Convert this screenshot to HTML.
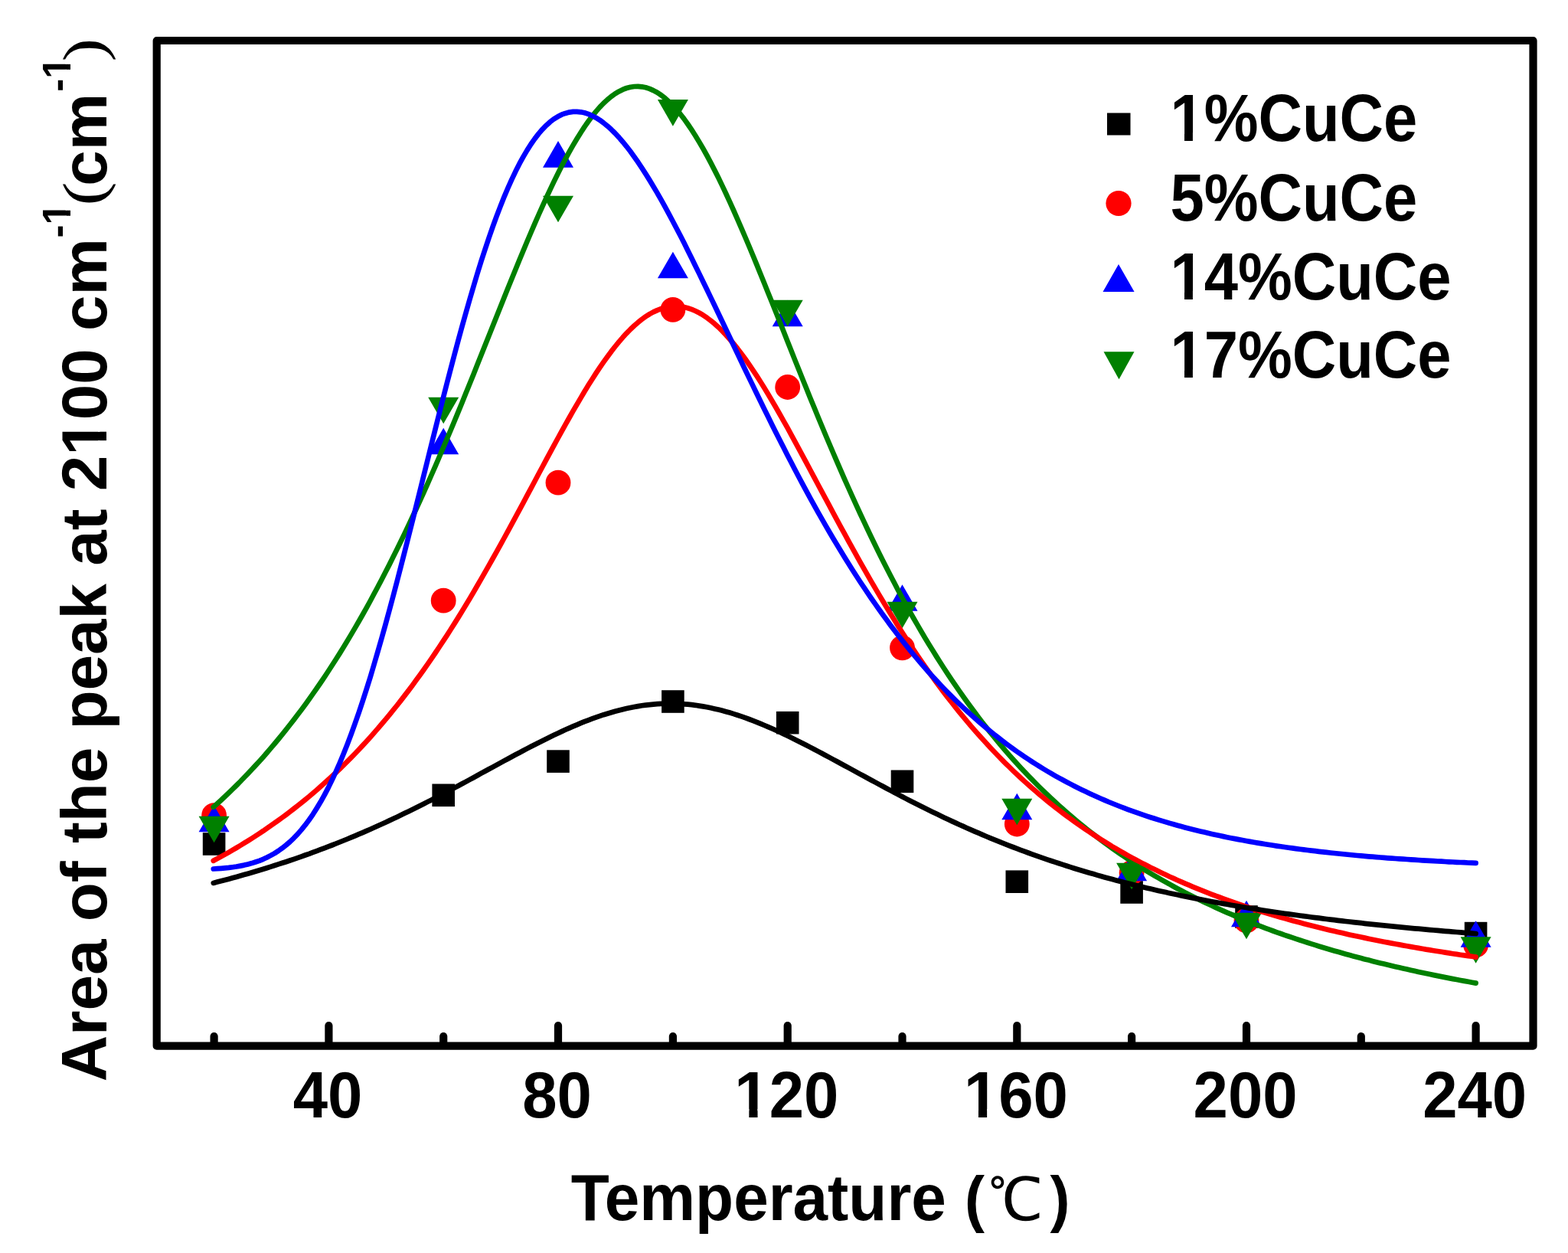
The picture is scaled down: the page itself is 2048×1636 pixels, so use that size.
<!DOCTYPE html>
<html><head><meta charset="utf-8"><style>
html,body{margin:0;padding:0;background:#fff;}
svg{display:block;}
text{font-family:"Liberation Sans",Arial,sans-serif;font-weight:bold;fill:#000;}
.tl{font-size:81.5px;}
.lg{font-size:79.6px;}
.ax{font-size:81.9px;}
.ay{font-size:83.6px;}
.sp{font-size:51px;}
.pr{font-family:"Liberation Serif",serif;font-weight:normal;}
.wq{font-family:"WenQuanYi Zen Hei","Noto Sans CJK SC",sans-serif;font-weight:normal;}
.cj{font-family:"Noto Serif CJK SC","Liberation Serif",serif;font-weight:normal;}
</style></head><body>
<svg width="2048" height="1636" viewBox="0 0 2048 1636">
<rect width="2048" height="1636" fill="#fff"/>
<rect x="264.8" y="1087.2" width="29.6" height="29.6" fill="#000"/><rect x="564.4" y="1023.5" width="29.6" height="29.6" fill="#000"/><rect x="714.2" y="979.3" width="29.6" height="29.6" fill="#000"/><rect x="864.1" y="901.2" width="29.6" height="29.6" fill="#000"/><rect x="1013.9" y="928.9" width="29.6" height="29.6" fill="#000"/><rect x="1163.7" y="1005.5" width="29.6" height="29.6" fill="#000"/><rect x="1313.5" y="1136.4" width="29.6" height="29.6" fill="#000"/><rect x="1463.3" y="1150.2" width="29.6" height="29.6" fill="#000"/><rect x="1613.2" y="1182.2" width="29.6" height="29.6" fill="#000"/><rect x="1912.8" y="1203.8" width="29.6" height="29.6" fill="#000"/><circle cx="279.6" cy="1064.7" r="16.4" fill="#f00"/><circle cx="579.2" cy="784.2" r="16.4" fill="#f00"/><circle cx="729.0" cy="630.2" r="16.4" fill="#f00"/><circle cx="878.9" cy="404.3" r="16.4" fill="#f00"/><circle cx="1028.7" cy="505.5" r="16.4" fill="#f00"/><circle cx="1178.5" cy="845.8" r="16.4" fill="#f00"/><circle cx="1328.3" cy="1076.0" r="16.4" fill="#f00"/><circle cx="1478.1" cy="1139.5" r="16.4" fill="#f00"/><circle cx="1628.0" cy="1202.0" r="16.4" fill="#f00"/><circle cx="1927.6" cy="1234.0" r="16.4" fill="#f00"/><polygon points="279.6,1051.7 299.6,1086.3 259.6,1086.3" fill="#00f"/><polygon points="579.2,558.7 599.2,593.3 559.2,593.3" fill="#00f"/><polygon points="729.0,184.1 749.0,218.7 709.0,218.7" fill="#00f"/><polygon points="878.9,328.7 898.9,363.3 858.9,363.3" fill="#00f"/><polygon points="1028.7,391.7 1048.7,426.3 1008.7,426.3" fill="#00f"/><polygon points="1178.5,763.2 1198.5,797.8 1158.5,797.8" fill="#00f"/><polygon points="1328.3,1035.7 1348.3,1070.3 1308.3,1070.3" fill="#00f"/><polygon points="1478.1,1115.7 1498.1,1150.3 1458.1,1150.3" fill="#00f"/><polygon points="1628.0,1175.7 1648.0,1210.3 1608.0,1210.3" fill="#00f"/><polygon points="1927.6,1202.2 1947.6,1236.8 1907.6,1236.8" fill="#00f"/><polygon points="259.6,1065.7 299.6,1065.7 279.6,1100.3" fill="#008000"/><polygon points="559.2,518.7 599.2,518.7 579.2,553.3" fill="#008000"/><polygon points="709.0,255.7 749.0,255.7 729.0,290.3" fill="#008000"/><polygon points="858.9,130.1 898.9,130.1 878.9,164.7" fill="#008000"/><polygon points="1008.7,391.7 1048.7,391.7 1028.7,426.3" fill="#008000"/><polygon points="1158.5,785.7 1198.5,785.7 1178.5,820.3" fill="#008000"/><polygon points="1308.3,1042.7 1348.3,1042.7 1328.3,1077.3" fill="#008000"/><polygon points="1458.1,1126.7 1498.1,1126.7 1478.1,1161.3" fill="#008000"/><polygon points="1608.0,1191.7 1648.0,1191.7 1628.0,1226.3" fill="#008000"/><polygon points="1907.6,1223.2 1947.6,1223.2 1927.6,1257.8" fill="#008000"/>
<path d="M278.8,1053.8 L283.8,1049.3 L288.8,1044.7 L293.8,1040.0 L298.8,1035.3 L303.8,1030.4 L308.8,1025.5 L313.8,1020.5 L318.8,1015.3 L323.8,1010.1 L328.8,1004.8 L333.8,999.4 L338.8,994.0 L343.8,988.4 L348.7,982.7 L353.7,976.9 L358.7,971.0 L363.7,965.0 L368.7,958.9 L373.7,952.7 L378.7,946.3 L383.7,939.9 L388.7,933.3 L393.7,926.7 L398.7,919.9 L403.7,913.0 L408.7,905.9 L413.7,898.8 L418.7,891.5 L423.7,884.1 L428.7,876.5 L433.7,868.8 L438.7,861.0 L443.7,853.1 L448.7,845.0 L453.7,836.8 L458.7,828.4 L463.7,819.9 L468.7,811.3 L473.7,802.5 L478.7,793.6 L483.7,784.5 L488.6,775.3 L493.6,766.0 L498.6,756.5 L503.6,746.8 L508.6,737.1 L513.6,727.1 L518.6,717.0 L523.6,706.8 L528.6,696.5 L533.6,685.9 L538.6,675.3 L543.6,664.5 L548.6,653.6 L553.6,642.5 L558.6,631.3 L563.6,620.0 L568.6,608.6 L573.6,597.0 L578.6,585.3 L583.6,573.5 L588.6,561.7 L593.6,549.7 L598.6,537.6 L603.6,525.4 L608.6,513.1 L613.6,500.8 L618.6,488.4 L623.5,476.0 L628.5,463.5 L633.5,451.0 L638.5,438.5 L643.5,426.0 L648.5,413.5 L653.5,401.0 L658.5,388.5 L663.5,376.1 L668.5,363.7 L673.5,351.5 L678.5,339.3 L683.5,327.2 L688.5,315.3 L693.5,303.5 L698.5,291.9 L703.5,280.5 L708.5,269.3 L713.5,258.3 L718.5,247.6 L723.5,237.1 L728.5,227.0 L733.5,217.1 L738.5,207.6 L743.5,198.4 L748.5,189.6 L753.5,181.2 L758.5,173.2 L763.4,165.6 L768.4,158.5 L773.4,151.8 L778.4,145.6 L783.4,139.9 L788.4,134.7 L793.4,130.1 L798.4,126.0 L803.4,122.4 L808.4,119.4 L813.4,116.9 L818.4,115.0 L823.4,113.7 L828.4,113.0 L833.4,112.9 L838.4,113.3 L843.4,114.3 L848.4,115.9 L853.4,118.1 L858.4,120.8 L863.4,124.1 L868.4,128.0 L873.4,132.4 L878.4,137.3 L883.4,142.7 L888.4,148.7 L893.4,155.1 L898.3,162.0 L903.3,169.4 L908.3,177.2 L913.3,185.4 L918.3,194.0 L923.3,203.0 L928.3,212.4 L933.3,222.1 L938.3,232.1 L943.3,242.4 L948.3,253.0 L953.3,263.9 L958.3,275.0 L963.3,286.3 L968.3,297.8 L973.3,309.5 L978.3,321.3 L983.3,333.3 L988.3,345.4 L993.3,357.7 L998.3,370.0 L1003.3,382.4 L1008.3,394.8 L1013.3,407.3 L1018.3,419.8 L1023.3,432.3 L1028.3,444.9 L1033.3,457.4 L1038.2,469.9 L1043.2,482.3 L1048.2,494.7 L1053.2,507.1 L1058.2,519.4 L1063.2,531.6 L1068.2,543.7 L1073.2,555.7 L1078.2,567.7 L1083.2,579.5 L1088.2,591.3 L1093.2,602.9 L1098.2,614.4 L1103.2,625.8 L1108.2,637.0 L1113.2,648.1 L1118.2,659.1 L1123.2,670.0 L1128.2,680.7 L1133.2,691.3 L1138.2,701.7 L1143.2,712.0 L1148.2,722.2 L1153.2,732.2 L1158.2,742.0 L1163.2,751.7 L1168.2,761.3 L1173.1,770.7 L1178.1,780.0 L1183.1,789.1 L1188.1,798.1 L1193.1,807.0 L1198.1,815.7 L1203.1,824.3 L1208.1,832.7 L1213.1,841.0 L1218.1,849.1 L1223.1,857.1 L1228.1,865.0 L1233.1,872.7 L1238.1,880.3 L1243.1,887.8 L1248.1,895.2 L1253.1,902.4 L1258.1,909.5 L1263.1,916.5 L1268.1,923.3 L1273.1,930.1 L1278.1,936.7 L1283.1,943.2 L1288.1,949.6 L1293.1,955.8 L1298.1,962.0 L1303.1,968.0 L1308.1,974.0 L1313.0,979.8 L1318.0,985.6 L1323.0,991.2 L1328.0,996.7 L1333.0,1002.2 L1338.0,1007.5 L1343.0,1012.8 L1348.0,1017.9 L1353.0,1023.0 L1358.0,1028.0 L1363.0,1032.9 L1368.0,1037.7 L1373.0,1042.4 L1378.0,1047.0 L1383.0,1051.6 L1388.0,1056.1 L1393.0,1060.5 L1398.0,1064.8 L1403.0,1069.0 L1408.0,1073.2 L1413.0,1077.3 L1418.0,1081.4 L1423.0,1085.3 L1428.0,1089.2 L1433.0,1093.0 L1438.0,1096.8 L1443.0,1100.5 L1447.9,1104.1 L1452.9,1107.7 L1457.9,1111.2 L1462.9,1114.7 L1467.9,1118.1 L1472.9,1121.4 L1477.9,1124.7 L1482.9,1127.9 L1487.9,1131.1 L1492.9,1134.2 L1497.9,1137.3 L1502.9,1140.3 L1507.9,1143.3 L1512.9,1146.2 L1517.9,1149.1 L1522.9,1151.9 L1527.9,1154.7 L1532.9,1157.5 L1537.9,1160.2 L1542.9,1162.8 L1547.9,1165.4 L1552.9,1168.0 L1557.9,1170.5 L1562.9,1173.0 L1567.9,1175.5 L1572.9,1177.9 L1577.9,1180.2 L1582.9,1182.6 L1587.8,1184.9 L1592.8,1187.1 L1597.8,1189.4 L1602.8,1191.6 L1607.8,1193.7 L1612.8,1195.9 L1617.8,1197.9 L1622.8,1200.0 L1627.8,1202.0 L1632.8,1204.0 L1637.8,1206.0 L1642.8,1208.0 L1647.8,1209.9 L1652.8,1211.8 L1657.8,1213.6 L1662.8,1215.5 L1667.8,1217.3 L1672.8,1219.0 L1677.8,1220.8 L1682.8,1222.5 L1687.8,1224.2 L1692.8,1225.9 L1697.8,1227.5 L1702.8,1229.2 L1707.8,1230.8 L1712.8,1232.4 L1717.8,1233.9 L1722.7,1235.5 L1727.7,1237.0 L1732.7,1238.5 L1737.7,1240.0 L1742.7,1241.4 L1747.7,1242.8 L1752.7,1244.3 L1757.7,1245.7 L1762.7,1247.0 L1767.7,1248.4 L1772.7,1249.7 L1777.7,1251.1 L1782.7,1252.4 L1787.7,1253.6 L1792.7,1254.9 L1797.7,1256.2 L1802.7,1257.4 L1807.7,1258.6 L1812.7,1259.8 L1817.7,1261.0 L1822.7,1262.2 L1827.7,1263.3 L1832.7,1264.5 L1837.7,1265.6 L1842.7,1266.7 L1847.7,1267.8 L1852.7,1268.9 L1857.7,1270.0 L1862.6,1271.0 L1867.6,1272.1 L1872.6,1273.1 L1877.6,1274.1 L1882.6,1275.1 L1887.6,1276.1 L1892.6,1277.1 L1897.6,1278.1 L1902.6,1279.0 L1907.6,1280.0 L1912.6,1280.9 L1917.6,1281.8 L1922.6,1282.7 L1927.6,1283.6" fill="none" stroke="#008000" stroke-width="6.7" stroke-linejoin="round" stroke-linecap="round"/><path d="M278.8,1123.8 L283.8,1121.1 L288.8,1118.4 L293.8,1115.6 L298.8,1112.8 L303.8,1109.9 L308.8,1107.0 L313.8,1104.0 L318.8,1100.9 L323.8,1097.9 L328.8,1094.7 L333.8,1091.5 L338.8,1088.2 L343.8,1084.9 L348.7,1081.5 L353.7,1078.1 L358.7,1074.6 L363.7,1071.0 L368.7,1067.4 L373.7,1063.7 L378.7,1059.9 L383.7,1056.0 L388.7,1052.1 L393.7,1048.2 L398.7,1044.1 L403.7,1040.0 L408.7,1035.7 L413.7,1031.5 L418.7,1027.1 L423.7,1022.6 L428.7,1018.1 L433.7,1013.5 L438.7,1008.8 L443.7,1004.0 L448.7,999.2 L453.7,994.2 L458.7,989.1 L463.7,984.0 L468.7,978.8 L473.7,973.4 L478.7,968.0 L483.7,962.5 L488.6,956.9 L493.6,951.1 L498.6,945.3 L503.6,939.4 L508.6,933.3 L513.6,927.2 L518.6,921.0 L523.6,914.6 L528.6,908.1 L533.6,901.6 L538.6,894.9 L543.6,888.1 L548.6,881.2 L553.6,874.2 L558.6,867.1 L563.6,859.8 L568.6,852.5 L573.6,845.0 L578.6,837.4 L583.6,829.8 L588.6,822.0 L593.6,814.1 L598.6,806.1 L603.6,798.0 L608.6,789.7 L613.6,781.4 L618.6,773.0 L623.5,764.5 L628.5,755.9 L633.5,747.2 L638.5,738.4 L643.5,729.5 L648.5,720.6 L653.5,711.6 L658.5,702.5 L663.5,693.3 L668.5,684.1 L673.5,674.9 L678.5,665.6 L683.5,656.3 L688.5,646.9 L693.5,637.6 L698.5,628.2 L703.5,618.8 L708.5,609.5 L713.5,600.2 L718.5,590.9 L723.5,581.7 L728.5,572.5 L733.5,563.4 L738.5,554.4 L743.5,545.5 L748.5,536.7 L753.5,528.1 L758.5,519.6 L763.4,511.3 L768.4,503.1 L773.4,495.2 L778.4,487.4 L783.4,479.9 L788.4,472.7 L793.4,465.7 L798.4,458.9 L803.4,452.5 L808.4,446.4 L813.4,440.6 L818.4,435.1 L823.4,430.0 L828.4,425.3 L833.4,420.9 L838.4,416.9 L843.4,413.3 L848.4,410.1 L853.4,407.4 L858.4,405.1 L863.4,403.2 L868.4,401.7 L873.4,400.7 L878.4,400.1 L883.4,400.0 L888.4,400.3 L893.4,401.1 L898.3,402.3 L903.3,403.9 L908.3,406.0 L913.3,408.5 L918.3,411.4 L923.3,414.8 L928.3,418.6 L933.3,422.7 L938.3,427.2 L943.3,432.1 L948.3,437.4 L953.3,443.0 L958.3,449.0 L963.3,455.2 L968.3,461.8 L973.3,468.6 L978.3,475.7 L983.3,483.1 L988.3,490.7 L993.3,498.5 L998.3,506.6 L1003.3,514.8 L1008.3,523.2 L1013.3,531.8 L1018.3,540.5 L1023.3,549.3 L1028.3,558.2 L1033.3,567.3 L1038.2,576.4 L1043.2,585.6 L1048.2,594.8 L1053.2,604.1 L1058.2,613.5 L1063.2,622.8 L1068.2,632.2 L1073.2,641.6 L1078.2,650.9 L1083.2,660.2 L1088.2,669.6 L1093.2,678.8 L1098.2,688.1 L1103.2,697.2 L1108.2,706.4 L1113.2,715.4 L1118.2,724.4 L1123.2,733.3 L1128.2,742.1 L1133.2,750.9 L1138.2,759.6 L1143.2,768.1 L1148.2,776.6 L1153.2,785.0 L1158.2,793.3 L1163.2,801.4 L1168.2,809.5 L1173.1,817.5 L1178.1,825.3 L1183.1,833.0 L1188.1,840.7 L1193.1,848.2 L1198.1,855.6 L1203.1,862.9 L1208.1,870.1 L1213.1,877.2 L1218.1,884.1 L1223.1,891.0 L1228.1,897.7 L1233.1,904.4 L1238.1,910.9 L1243.1,917.3 L1248.1,923.6 L1253.1,929.8 L1258.1,935.9 L1263.1,941.9 L1268.1,947.8 L1273.1,953.6 L1278.1,959.3 L1283.1,964.8 L1288.1,970.3 L1293.1,975.7 L1298.1,981.0 L1303.1,986.2 L1308.1,991.3 L1313.0,996.3 L1318.0,1001.2 L1323.0,1006.1 L1328.0,1010.8 L1333.0,1015.5 L1338.0,1020.1 L1343.0,1024.6 L1348.0,1029.0 L1353.0,1033.3 L1358.0,1037.6 L1363.0,1041.7 L1368.0,1045.8 L1373.0,1049.9 L1378.0,1053.8 L1383.0,1057.7 L1388.0,1061.5 L1393.0,1065.2 L1398.0,1068.9 L1403.0,1072.5 L1408.0,1076.1 L1413.0,1079.6 L1418.0,1083.0 L1423.0,1086.3 L1428.0,1089.6 L1433.0,1092.9 L1438.0,1096.1 L1443.0,1099.2 L1447.9,1102.2 L1452.9,1105.3 L1457.9,1108.2 L1462.9,1111.1 L1467.9,1114.0 L1472.9,1116.8 L1477.9,1119.6 L1482.9,1122.3 L1487.9,1124.9 L1492.9,1127.6 L1497.9,1130.1 L1502.9,1132.7 L1507.9,1135.1 L1512.9,1137.6 L1517.9,1140.0 L1522.9,1142.3 L1527.9,1144.7 L1532.9,1146.9 L1537.9,1149.2 L1542.9,1151.4 L1547.9,1153.6 L1552.9,1155.7 L1557.9,1157.8 L1562.9,1159.9 L1567.9,1161.9 L1572.9,1163.9 L1577.9,1165.8 L1582.9,1167.8 L1587.8,1169.7 L1592.8,1171.5 L1597.8,1173.4 L1602.8,1175.2 L1607.8,1177.0 L1612.8,1178.7 L1617.8,1180.4 L1622.8,1182.1 L1627.8,1183.8 L1632.8,1185.4 L1637.8,1187.1 L1642.8,1188.6 L1647.8,1190.2 L1652.8,1191.7 L1657.8,1193.3 L1662.8,1194.8 L1667.8,1196.2 L1672.8,1197.7 L1677.8,1199.1 L1682.8,1200.5 L1687.8,1201.9 L1692.8,1203.3 L1697.8,1204.6 L1702.8,1205.9 L1707.8,1207.2 L1712.8,1208.5 L1717.8,1209.8 L1722.7,1211.0 L1727.7,1212.3 L1732.7,1213.5 L1737.7,1214.7 L1742.7,1215.8 L1747.7,1217.0 L1752.7,1218.1 L1757.7,1219.3 L1762.7,1220.4 L1767.7,1221.5 L1772.7,1222.5 L1777.7,1223.6 L1782.7,1224.6 L1787.7,1225.7 L1792.7,1226.7 L1797.7,1227.7 L1802.7,1228.7 L1807.7,1229.7 L1812.7,1230.6 L1817.7,1231.6 L1822.7,1232.5 L1827.7,1233.4 L1832.7,1234.4 L1837.7,1235.2 L1842.7,1236.1 L1847.7,1237.0 L1852.7,1237.9 L1857.7,1238.7 L1862.6,1239.6 L1867.6,1240.4 L1872.6,1241.2 L1877.6,1242.0 L1882.6,1242.8 L1887.6,1243.6 L1892.6,1244.4 L1897.6,1245.2 L1902.6,1245.9 L1907.6,1246.7 L1912.6,1247.4 L1917.6,1248.1 L1922.6,1248.8 L1927.6,1249.6" fill="none" stroke="#f00" stroke-width="6.7" stroke-linejoin="round" stroke-linecap="round"/><path d="M278.8,1134.5 L283.8,1134.2 L288.8,1133.8 L293.8,1133.4 L298.8,1132.9 L303.8,1132.2 L308.8,1131.5 L313.8,1130.6 L318.8,1129.6 L323.8,1128.4 L328.8,1127.1 L333.8,1125.5 L338.8,1123.8 L343.8,1121.8 L348.7,1119.5 L353.7,1116.9 L358.7,1114.1 L363.7,1110.9 L368.7,1107.3 L373.7,1103.4 L378.7,1099.1 L383.7,1094.3 L388.7,1089.1 L393.7,1083.4 L398.7,1077.2 L403.7,1070.5 L408.7,1063.3 L413.7,1055.4 L418.7,1047.1 L423.7,1038.1 L428.7,1028.6 L433.7,1018.4 L438.7,1007.7 L443.7,996.3 L448.7,984.3 L453.7,971.7 L458.7,958.5 L463.7,944.7 L468.7,930.4 L473.7,915.4 L478.7,899.9 L483.7,883.9 L488.6,867.4 L493.6,850.3 L498.6,832.9 L503.6,815.0 L508.6,796.7 L513.6,778.0 L518.6,759.0 L523.6,739.7 L528.6,720.2 L533.6,700.5 L538.6,680.6 L543.6,660.6 L548.6,640.5 L553.6,620.3 L558.6,600.2 L563.6,580.1 L568.6,560.1 L573.6,540.2 L578.6,520.5 L583.6,501.0 L588.6,481.8 L593.6,462.8 L598.6,444.2 L603.6,425.9 L608.6,408.1 L613.6,390.6 L618.6,373.6 L623.5,357.1 L628.5,341.1 L633.5,325.7 L638.5,310.8 L643.5,296.4 L648.5,282.7 L653.5,269.6 L658.5,257.1 L663.5,245.3 L668.5,234.1 L673.5,223.6 L678.5,213.7 L683.5,204.6 L688.5,196.1 L693.5,188.2 L698.5,181.1 L703.5,174.6 L708.5,168.8 L713.5,163.7 L718.5,159.2 L723.5,155.4 L728.5,152.3 L733.5,149.7 L738.5,147.9 L743.5,146.6 L748.5,145.9 L753.5,145.8 L758.5,146.3 L763.4,147.3 L768.4,148.9 L773.4,151.1 L778.4,153.7 L783.4,156.8 L788.4,160.5 L793.4,164.6 L798.4,169.1 L803.4,174.0 L808.4,179.4 L813.4,185.2 L818.4,191.3 L823.4,197.8 L828.4,204.7 L833.4,211.8 L838.4,219.3 L843.4,227.1 L848.4,235.1 L853.4,243.4 L858.4,251.9 L863.4,260.7 L868.4,269.7 L873.4,278.8 L878.4,288.2 L883.4,297.7 L888.4,307.3 L893.4,317.1 L898.3,327.0 L903.3,337.0 L908.3,347.2 L913.3,357.4 L918.3,367.7 L923.3,378.0 L928.3,388.4 L933.3,398.8 L938.3,409.3 L943.3,419.8 L948.3,430.3 L953.3,440.8 L958.3,451.3 L963.3,461.8 L968.3,472.2 L973.3,482.7 L978.3,493.1 L983.3,503.4 L988.3,513.8 L993.3,524.0 L998.3,534.2 L1003.3,544.3 L1008.3,554.4 L1013.3,564.4 L1018.3,574.3 L1023.3,584.1 L1028.3,593.9 L1033.3,603.5 L1038.2,613.1 L1043.2,622.5 L1048.2,631.9 L1053.2,641.2 L1058.2,650.3 L1063.2,659.4 L1068.2,668.3 L1073.2,677.1 L1078.2,685.9 L1083.2,694.5 L1088.2,703.0 L1093.2,711.3 L1098.2,719.6 L1103.2,727.8 L1108.2,735.8 L1113.2,743.7 L1118.2,751.5 L1123.2,759.2 L1128.2,766.7 L1133.2,774.2 L1138.2,781.5 L1143.2,788.7 L1148.2,795.8 L1153.2,802.8 L1158.2,809.6 L1163.2,816.4 L1168.2,823.0 L1173.1,829.5 L1178.1,835.9 L1183.1,842.2 L1188.1,848.4 L1193.1,854.5 L1198.1,860.4 L1203.1,866.3 L1208.1,872.0 L1213.1,877.7 L1218.1,883.2 L1223.1,888.6 L1228.1,894.0 L1233.1,899.2 L1238.1,904.3 L1243.1,909.4 L1248.1,914.3 L1253.1,919.1 L1258.1,923.9 L1263.1,928.5 L1268.1,933.1 L1273.1,937.5 L1278.1,941.9 L1283.1,946.2 L1288.1,950.4 L1293.1,954.5 L1298.1,958.6 L1303.1,962.5 L1308.1,966.4 L1313.0,970.2 L1318.0,973.9 L1323.0,977.5 L1328.0,981.1 L1333.0,984.6 L1338.0,988.0 L1343.0,991.3 L1348.0,994.6 L1353.0,997.8 L1358.0,1000.9 L1363.0,1004.0 L1368.0,1007.0 L1373.0,1009.9 L1378.0,1012.8 L1383.0,1015.6 L1388.0,1018.3 L1393.0,1021.0 L1398.0,1023.6 L1403.0,1026.2 L1408.0,1028.7 L1413.0,1031.2 L1418.0,1033.6 L1423.0,1036.0 L1428.0,1038.3 L1433.0,1040.5 L1438.0,1042.7 L1443.0,1044.9 L1447.9,1047.0 L1452.9,1049.0 L1457.9,1051.0 L1462.9,1053.0 L1467.9,1054.9 L1472.9,1056.8 L1477.9,1058.6 L1482.9,1060.4 L1487.9,1062.2 L1492.9,1063.9 L1497.9,1065.6 L1502.9,1067.2 L1507.9,1068.8 L1512.9,1070.4 L1517.9,1071.9 L1522.9,1073.4 L1527.9,1074.9 L1532.9,1076.3 L1537.9,1077.7 L1542.9,1079.0 L1547.9,1080.4 L1552.9,1081.7 L1557.9,1083.0 L1562.9,1084.2 L1567.9,1085.4 L1572.9,1086.6 L1577.9,1087.8 L1582.9,1088.9 L1587.8,1090.0 L1592.8,1091.1 L1597.8,1092.1 L1602.8,1093.2 L1607.8,1094.2 L1612.8,1095.1 L1617.8,1096.1 L1622.8,1097.0 L1627.8,1098.0 L1632.8,1098.9 L1637.8,1099.7 L1642.8,1100.6 L1647.8,1101.4 L1652.8,1102.2 L1657.8,1103.0 L1662.8,1103.8 L1667.8,1104.6 L1672.8,1105.3 L1677.8,1106.0 L1682.8,1106.7 L1687.8,1107.4 L1692.8,1108.1 L1697.8,1108.8 L1702.8,1109.4 L1707.8,1110.0 L1712.8,1110.6 L1717.8,1111.2 L1722.7,1111.8 L1727.7,1112.4 L1732.7,1112.9 L1737.7,1113.5 L1742.7,1114.0 L1747.7,1114.5 L1752.7,1115.0 L1757.7,1115.5 L1762.7,1116.0 L1767.7,1116.5 L1772.7,1117.0 L1777.7,1117.4 L1782.7,1117.8 L1787.7,1118.3 L1792.7,1118.7 L1797.7,1119.1 L1802.7,1119.5 L1807.7,1119.9 L1812.7,1120.3 L1817.7,1120.6 L1822.7,1121.0 L1827.7,1121.4 L1832.7,1121.7 L1837.7,1122.0 L1842.7,1122.4 L1847.7,1122.7 L1852.7,1123.0 L1857.7,1123.3 L1862.6,1123.6 L1867.6,1123.9 L1872.6,1124.2 L1877.6,1124.5 L1882.6,1124.7 L1887.6,1125.0 L1892.6,1125.3 L1897.6,1125.5 L1902.6,1125.8 L1907.6,1126.0 L1912.6,1126.2 L1917.6,1126.5 L1922.6,1126.7 L1927.6,1126.9" fill="none" stroke="#00f" stroke-width="6.7" stroke-linejoin="round" stroke-linecap="round"/><path d="M278.8,1152.9 L283.8,1151.6 L288.8,1150.3 L293.8,1149.0 L298.8,1147.7 L303.8,1146.3 L308.8,1144.9 L313.8,1143.5 L318.8,1142.1 L323.8,1140.7 L328.8,1139.2 L333.8,1137.7 L338.8,1136.2 L343.8,1134.7 L348.7,1133.2 L353.7,1131.6 L358.7,1130.0 L363.7,1128.4 L368.7,1126.8 L373.7,1125.2 L378.7,1123.5 L383.7,1121.8 L388.7,1120.1 L393.7,1118.3 L398.7,1116.5 L403.7,1114.8 L408.7,1112.9 L413.7,1111.1 L418.7,1109.2 L423.7,1107.3 L428.7,1105.4 L433.7,1103.5 L438.7,1101.5 L443.7,1099.5 L448.7,1097.5 L453.7,1095.5 L458.7,1093.4 L463.7,1091.3 L468.7,1089.2 L473.7,1087.1 L478.7,1084.9 L483.7,1082.7 L488.6,1080.5 L493.6,1078.2 L498.6,1076.0 L503.6,1073.7 L508.6,1071.4 L513.6,1069.0 L518.6,1066.7 L523.6,1064.3 L528.6,1061.8 L533.6,1059.4 L538.6,1057.0 L543.6,1054.5 L548.6,1052.0 L553.6,1049.5 L558.6,1046.9 L563.6,1044.4 L568.6,1041.8 L573.6,1039.2 L578.6,1036.6 L583.6,1033.9 L588.6,1031.3 L593.6,1028.6 L598.6,1026.0 L603.6,1023.3 L608.6,1020.6 L613.6,1017.9 L618.6,1015.2 L623.5,1012.5 L628.5,1009.7 L633.5,1007.0 L638.5,1004.3 L643.5,1001.6 L648.5,998.8 L653.5,996.1 L658.5,993.4 L663.5,990.7 L668.5,988.0 L673.5,985.3 L678.5,982.7 L683.5,980.0 L688.5,977.4 L693.5,974.8 L698.5,972.2 L703.5,969.7 L708.5,967.2 L713.5,964.7 L718.5,962.2 L723.5,959.8 L728.5,957.4 L733.5,955.1 L738.5,952.8 L743.5,950.6 L748.5,948.4 L753.5,946.3 L758.5,944.2 L763.4,942.2 L768.4,940.3 L773.4,938.4 L778.4,936.6 L783.4,934.9 L788.4,933.2 L793.4,931.7 L798.4,930.2 L803.4,928.7 L808.4,927.4 L813.4,926.2 L818.4,925.0 L823.4,924.0 L828.4,923.0 L833.4,922.1 L838.4,921.3 L843.4,920.6 L848.4,920.1 L853.4,919.6 L858.4,919.2 L863.4,918.9 L868.4,918.7 L873.4,918.6 L878.4,918.6 L883.4,918.7 L888.4,919.0 L893.4,919.3 L898.3,919.7 L903.3,920.2 L908.3,920.8 L913.3,921.6 L918.3,922.4 L923.3,923.3 L928.3,924.3 L933.3,925.4 L938.3,926.6 L943.3,927.8 L948.3,929.2 L953.3,930.6 L958.3,932.1 L963.3,933.7 L968.3,935.4 L973.3,937.2 L978.3,939.0 L983.3,940.9 L988.3,942.8 L993.3,944.9 L998.3,947.0 L1003.3,949.1 L1008.3,951.3 L1013.3,953.5 L1018.3,955.8 L1023.3,958.2 L1028.3,960.6 L1033.3,963.0 L1038.2,965.4 L1043.2,967.9 L1048.2,970.5 L1053.2,973.0 L1058.2,975.6 L1063.2,978.2 L1068.2,980.9 L1073.2,983.5 L1078.2,986.2 L1083.2,988.9 L1088.2,991.6 L1093.2,994.3 L1098.2,997.0 L1103.2,999.7 L1108.2,1002.4 L1113.2,1005.1 L1118.2,1007.9 L1123.2,1010.6 L1128.2,1013.3 L1133.2,1016.0 L1138.2,1018.7 L1143.2,1021.4 L1148.2,1024.1 L1153.2,1026.8 L1158.2,1029.5 L1163.2,1032.1 L1168.2,1034.8 L1173.1,1037.4 L1178.1,1040.0 L1183.1,1042.6 L1188.1,1045.2 L1193.1,1047.7 L1198.1,1050.2 L1203.1,1052.8 L1208.1,1055.3 L1213.1,1057.7 L1218.1,1060.2 L1223.1,1062.6 L1228.1,1065.0 L1233.1,1067.4 L1238.1,1069.8 L1243.1,1072.1 L1248.1,1074.4 L1253.1,1076.7 L1258.1,1078.9 L1263.1,1081.2 L1268.1,1083.4 L1273.1,1085.6 L1278.1,1087.7 L1283.1,1089.9 L1288.1,1092.0 L1293.1,1094.1 L1298.1,1096.1 L1303.1,1098.1 L1308.1,1100.2 L1313.0,1102.1 L1318.0,1104.1 L1323.0,1106.0 L1328.0,1107.9 L1333.0,1109.8 L1338.0,1111.7 L1343.0,1113.5 L1348.0,1115.3 L1353.0,1117.1 L1358.0,1118.9 L1363.0,1120.6 L1368.0,1122.3 L1373.0,1124.0 L1378.0,1125.7 L1383.0,1127.3 L1388.0,1128.9 L1393.0,1130.5 L1398.0,1132.1 L1403.0,1133.7 L1408.0,1135.2 L1413.0,1136.7 L1418.0,1138.2 L1423.0,1139.7 L1428.0,1141.1 L1433.0,1142.6 L1438.0,1144.0 L1443.0,1145.4 L1447.9,1146.7 L1452.9,1148.1 L1457.9,1149.4 L1462.9,1150.7 L1467.9,1152.0 L1472.9,1153.3 L1477.9,1154.5 L1482.9,1155.8 L1487.9,1157.0 L1492.9,1158.2 L1497.9,1159.4 L1502.9,1160.6 L1507.9,1161.7 L1512.9,1162.9 L1517.9,1164.0 L1522.9,1165.1 L1527.9,1166.2 L1532.9,1167.3 L1537.9,1168.3 L1542.9,1169.4 L1547.9,1170.4 L1552.9,1171.4 L1557.9,1172.4 L1562.9,1173.4 L1567.9,1174.4 L1572.9,1175.3 L1577.9,1176.3 L1582.9,1177.2 L1587.8,1178.1 L1592.8,1179.0 L1597.8,1179.9 L1602.8,1180.8 L1607.8,1181.7 L1612.8,1182.5 L1617.8,1183.4 L1622.8,1184.2 L1627.8,1185.0 L1632.8,1185.9 L1637.8,1186.7 L1642.8,1187.4 L1647.8,1188.2 L1652.8,1189.0 L1657.8,1189.8 L1662.8,1190.5 L1667.8,1191.2 L1672.8,1192.0 L1677.8,1192.7 L1682.8,1193.4 L1687.8,1194.1 L1692.8,1194.8 L1697.8,1195.5 L1702.8,1196.1 L1707.8,1196.8 L1712.8,1197.5 L1717.8,1198.1 L1722.7,1198.7 L1727.7,1199.4 L1732.7,1200.0 L1737.7,1200.6 L1742.7,1201.2 L1747.7,1201.8 L1752.7,1202.4 L1757.7,1203.0 L1762.7,1203.5 L1767.7,1204.1 L1772.7,1204.7 L1777.7,1205.2 L1782.7,1205.8 L1787.7,1206.3 L1792.7,1206.8 L1797.7,1207.4 L1802.7,1207.9 L1807.7,1208.4 L1812.7,1208.9 L1817.7,1209.4 L1822.7,1209.9 L1827.7,1210.4 L1832.7,1210.9 L1837.7,1211.3 L1842.7,1211.8 L1847.7,1212.3 L1852.7,1212.7 L1857.7,1213.2 L1862.6,1213.6 L1867.6,1214.1 L1872.6,1214.5 L1877.6,1214.9 L1882.6,1215.4 L1887.6,1215.8 L1892.6,1216.2 L1897.6,1216.6 L1902.6,1217.0 L1907.6,1217.4 L1912.6,1217.8 L1917.6,1218.2 L1922.6,1218.6 L1927.6,1219.0" fill="none" stroke="#000" stroke-width="6.7" stroke-linejoin="round" stroke-linecap="round"/>
<line x1="279.6" y1="1353.1" x2="279.6" y2="1362" stroke="#000" stroke-width="10.2" stroke-linecap="round"/><line x1="429.4" y1="1339.1" x2="429.4" y2="1362" stroke="#000" stroke-width="10.2" stroke-linecap="round"/><line x1="579.2" y1="1353.1" x2="579.2" y2="1362" stroke="#000" stroke-width="10.2" stroke-linecap="round"/><line x1="729.0" y1="1339.1" x2="729.0" y2="1362" stroke="#000" stroke-width="10.2" stroke-linecap="round"/><line x1="878.9" y1="1353.1" x2="878.9" y2="1362" stroke="#000" stroke-width="10.2" stroke-linecap="round"/><line x1="1028.7" y1="1339.1" x2="1028.7" y2="1362" stroke="#000" stroke-width="10.2" stroke-linecap="round"/><line x1="1178.5" y1="1353.1" x2="1178.5" y2="1362" stroke="#000" stroke-width="10.2" stroke-linecap="round"/><line x1="1328.3" y1="1339.1" x2="1328.3" y2="1362" stroke="#000" stroke-width="10.2" stroke-linecap="round"/><line x1="1478.1" y1="1353.1" x2="1478.1" y2="1362" stroke="#000" stroke-width="10.2" stroke-linecap="round"/><line x1="1628.0" y1="1339.1" x2="1628.0" y2="1362" stroke="#000" stroke-width="10.2" stroke-linecap="round"/><line x1="1777.8" y1="1353.1" x2="1777.8" y2="1362" stroke="#000" stroke-width="10.2" stroke-linecap="round"/><line x1="1927.6" y1="1339.1" x2="1927.6" y2="1362" stroke="#000" stroke-width="10.2" stroke-linecap="round"/>
<rect x="204.7" y="53" width="1797.8" height="1312.7" fill="none" stroke="#000" stroke-width="10.2" stroke-linejoin="round"/>
<g transform="translate(428.0,1458.8) scale(1,1.052)"><text id="t40" text-anchor="middle" class="tl">40</text></g><g transform="translate(727.6,1458.8) scale(1,1.052)"><text id="t80" text-anchor="middle" class="tl">80</text></g><g transform="translate(1027.3,1458.8) scale(1,1.052)"><text id="t120" text-anchor="middle" class="tl">120</text><rect x="-64.43" y="-10.31" width="15.48" height="11.50" fill="#fff"/><rect x="-37.77" y="-10.31" width="14.45" height="11.50" fill="#fff"/></g><g transform="translate(1326.9,1458.8) scale(1,1.052)"><text id="t160" text-anchor="middle" class="tl">160</text><rect x="-64.43" y="-10.31" width="15.48" height="11.50" fill="#fff"/><rect x="-37.77" y="-10.31" width="14.45" height="11.50" fill="#fff"/></g><g transform="translate(1626.6,1458.8) scale(1,1.052)"><text id="t200" text-anchor="middle" class="tl">200</text></g><g transform="translate(1926.2,1458.8) scale(1,1.052)"><text id="t240" text-anchor="middle" class="tl">240</text></g>

<rect x="1446" y="147.5" width="30.5" height="29" fill="#000"/>
<circle cx="1461" cy="265.5" r="16.6" fill="#f00"/>
<polygon points="1461,345 1481.6,381 1440.5,381" fill="#00f"/>
<polygon points="1441.5,459.3 1481.5,459.3 1461.5,495.3" fill="#008000"/>
<g transform="translate(1528.4,184.1) scale(1,1.086)"><text id="l1" class="lg">1%CuCe</text><rect x="3.46" y="-10.07" width="15.12" height="11.23" fill="#fff"/><rect x="29.50" y="-10.07" width="14.11" height="11.23" fill="#fff"/></g>
<g transform="translate(1528.4,288.1) scale(1,1.086)"><text id="l5" class="lg">5%CuCe</text></g>
<g transform="translate(1528.4,390.8) scale(1,1.086)"><text id="l14" class="lg">14%CuCe</text><rect x="3.46" y="-10.07" width="15.12" height="11.23" fill="#fff"/><rect x="29.50" y="-10.07" width="14.11" height="11.23" fill="#fff"/></g>
<g transform="translate(1528.4,493.4) scale(1,1.086)"><text id="l17" class="lg">17%CuCe</text><rect x="3.46" y="-10.07" width="15.12" height="11.23" fill="#fff"/><rect x="29.50" y="-10.07" width="14.11" height="11.23" fill="#fff"/></g>

<g transform="translate(747.8,1593.4) scale(1,1.04)"><text x="-2" y="0" class="ax">Temperature</text><text x="512.1" y="0" class="ax" style="font-size:78px">(</text><text x="623.8" y="0" class="ax" style="font-size:78px">)</text></g>
<text transform="translate(1291,1593.4) scale(0.97,0.985)" class="wq" font-size="79">℃</text>
<g transform="rotate(-90)">
<text id="ya" x="-1412.3" y="138.6" class="ay">Area of the peak at 2100 cm</text><rect x="-591.03" y="128.03" width="15.88" height="11.80" fill="#fff"/><rect x="-563.68" y="128.03" width="14.82" height="11.80" fill="#fff"/>
<text id="ys1" x="-310.6" y="92.2" class="sp">-1</text><rect x="-291.41" y="85.75" width="9.69" height="7.20" fill="#fff"/><rect x="-274.73" y="85.75" width="9.04" height="7.20" fill="#fff"/>
<text transform="translate(-253.15,135) scale(1.22,1)" text-anchor="middle" class="pr" font-size="76">(</text>
<text x="-242.8" y="138.6" class="ay">cm</text>
<text id="ys2" x="-119.7" y="92.2" class="sp">-1</text><rect x="-100.51" y="85.75" width="9.69" height="7.20" fill="#fff"/><rect x="-83.83" y="85.75" width="9.04" height="7.20" fill="#fff"/>
<text transform="translate(-65.25,135) scale(1.2,1)" text-anchor="middle" class="pr" font-size="76">)</text>
</g>
</svg>
</body></html>
